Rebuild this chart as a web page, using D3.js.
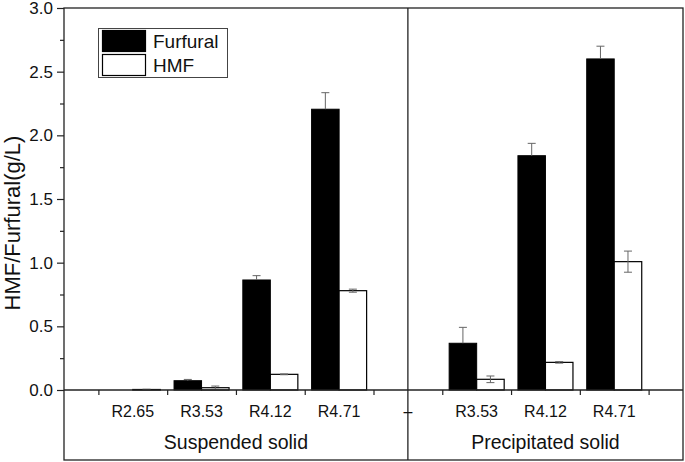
<!DOCTYPE html>
<html><head><meta charset="utf-8">
<script src="https://cdn.jsdelivr.net/npm/d3@7"></script>
<style>html,body{margin:0;padding:0;background:#fff;}svg{display:block;font-family:Arial,"Liberation Sans",sans-serif;}</style>
</head><body>
<svg id="c" width="685" height="462"></svg>
<script>
const categories = ["R2.65","R3.53","R4.12","R4.71","–","R3.53","R4.12","R4.71"];
const groups = ["Suspended solid","Precipitated solid"];
const furfural    = [0, 0.073, 0.864, 2.205, null, 0.367, 1.84, 2.60];
const furfuralErr = [0, 0.010, 0.034, 0.130, null, 0.125, 0.097, 0.100];
const hmf         = [0.004, 0.018, 0.123, 0.780, null, 0.084, 0.217, 1.008];
const hmfErr      = [0.002, 0.013, 0.003, 0.012, null, 0.026, 0.006, 0.083];
const yTicks = [0, 0.5, 1.0, 1.5, 2.0, 2.5, 3.0];
const seriesNames = ["Furfural","HMF"];

const L = 64, R = 683, T = 8, B = 390, BB = 460;
const svg = d3.select("#c");
const x = d3.scaleLinear().domain([-1, categories.length]).range([L, R]);
const y = d3.scaleLinear().domain([0, 3]).range([B, T]);
const bw = 0.4;
const col = "#222";

// bars
const idx = d3.range(categories.length).filter(i => furfural[i] !== null);
const g = svg.append("g");
g.selectAll("rect.f").data(idx).enter().append("rect")
  .attr("x", i => x(i - bw)).attr("width", x(bw) - x(0))
  .attr("y", i => y(furfural[i])).attr("height", i => y(0) - y(furfural[i]))
  .attr("fill", "#000").attr("stroke", "#000").attr("stroke-width", 1);
g.selectAll("rect.h").data(idx).enter().append("rect")
  .attr("x", i => x(i)).attr("width", x(bw) - x(0))
  .attr("y", i => y(hmf[i])).attr("height", i => y(0) - y(hmf[i]))
  .attr("fill", "#fff").attr("stroke", "#000").attr("stroke-width", 1.2);

// error bars
const ecol = "#666", cap = 4;
idx.forEach(i => {
  const cx = x(i - bw / 2);
  if (furfuralErr[i] > 0) {
    const t = y(furfural[i] + furfuralErr[i]);
    g.append("line").attr("x1", cx).attr("x2", cx).attr("y1", y(furfural[i])).attr("y2", t).attr("stroke", ecol);
    g.append("line").attr("x1", cx - cap).attr("x2", cx + cap).attr("y1", t).attr("y2", t).attr("stroke", ecol);
  }
  const hx = x(i + bw / 2);
  const t2 = y(hmf[i] + hmfErr[i]), b2 = y(Math.max(0, hmf[i] - hmfErr[i]));
  g.append("line").attr("x1", hx).attr("x2", hx).attr("y1", b2).attr("y2", t2).attr("stroke", ecol);
  [t2, b2].forEach(v => g.append("line").attr("x1", hx - cap).attr("x2", hx + cap).attr("y1", v).attr("y2", v).attr("stroke", ecol));
});

// frame
svg.append("rect").attr("x", L).attr("y", T).attr("width", R - L).attr("height", BB - T)
  .attr("fill", "none").attr("stroke", col).attr("stroke-width", 1.3);
svg.append("line").attr("x1", L).attr("x2", R).attr("y1", B).attr("y2", B).attr("stroke", col).attr("stroke-width", 1.3);
svg.append("line").attr("x1", x(4)).attr("x2", x(4)).attr("y1", T).attr("y2", BB).attr("stroke", col).attr("stroke-width", 1.3);

// y axis
const yAxis = d3.axisLeft(y).tickValues(yTicks).tickFormat(d3.format(".1f")).tickSize(7).tickPadding(4);
const ya = svg.append("g").attr("transform", `translate(${L},0)`).call(yAxis);
ya.select(".domain").remove();
ya.selectAll("line").attr("stroke", col).attr("stroke-width", 1.2);
ya.selectAll("text").attr("font-size", 17).attr("fill", "#111").attr("font-family", "Arial, 'Liberation Sans', sans-serif");
const minor = d3.axisLeft(y).tickValues(d3.range(0.25, 3, 0.5)).tickSize(4).tickFormat("");
const ym = svg.append("g").attr("transform", `translate(${L},0)`).call(minor);
ym.select(".domain").remove();
ym.selectAll("line").attr("stroke", col).attr("stroke-width", 1.2);

// x axis ticks at boundaries, labels at centers
const xb = d3.axisBottom(x).tickValues(d3.range(-0.5, categories.length, 1)).tickSize(5).tickFormat("");
const xa = svg.append("g").attr("transform", `translate(0,${B})`).call(xb);
xa.select(".domain").remove();
xa.selectAll("line").attr("stroke", col).attr("stroke-width", 1.2);
svg.append("g").selectAll("text").data(categories).enter().append("text")
  .attr("x", (d, i) => x(i)).attr("y", 417).attr("text-anchor", "middle")
  .attr("font-size", 16).attr("fill", "#111").text(d => d);

// group labels
svg.append("g").selectAll("text").data(groups).enter().append("text")
  .attr("x", (d, i) => i === 0 ? (L + x(4)) / 2 : (x(4) + R) / 2).attr("y", 449)
  .attr("text-anchor", "middle").attr("font-size", 19.5).attr("fill", "#111").text(d => d);

// y label
svg.append("text").attr("transform", "translate(20,223) rotate(-90)").attr("text-anchor", "middle")
  .attr("font-size", 22).attr("fill", "#111").text("HMF/Furfural(g/L)");

// legend
const lg = svg.append("g");
lg.append("rect").attr("x", 98.5).attr("y", 28.5).attr("width", 129).attr("height", 49)
  .attr("fill", "#fff").attr("stroke", "#444").attr("stroke-width", 1);
seriesNames.forEach((s, k) => {
  lg.append("rect").attr("x", 102.5).attr("y", 30.5 + k * 24).attr("width", 43).attr("height", 21)
    .attr("fill", k === 0 ? "#000" : "#fff").attr("stroke", "#000").attr("stroke-width", 1.2);
  lg.append("text").attr("x", 153).attr("y", 48 + k * 24).attr("font-size", 19).attr("fill", "#111").text(s);
});
</script>
</body></html>
